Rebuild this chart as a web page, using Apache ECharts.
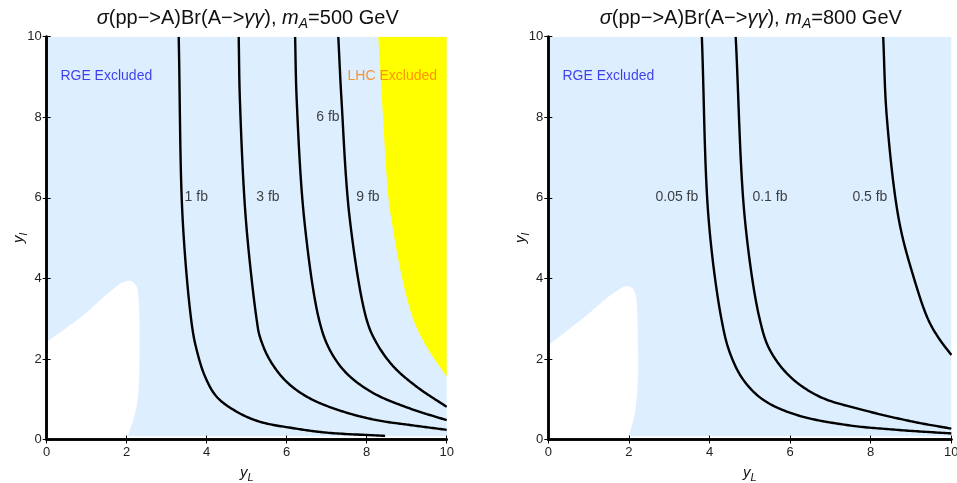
<!DOCTYPE html>
<html>
<head>
<meta charset="utf-8">
<script src="https://cdn.jsdelivr.net/npm/echarts@6/dist/echarts.min.js"></script>
<style>
  html, body { margin: 0; padding: 0; background: #fff; }
  #chart { width: 957px; height: 483px; }
</style>
</head>
<body>
<div id="chart"></div>
<script>
// ---- data (yL on x, yl on y) ----
const massLabels = ['500', '800'];

// region where RGE running is excluded: whole plane (thin strip near yl = 0 left clear)
const rgeRegion = [[0, 0.08], [10, 0.08], [10, 10], [0, 10]];

// edge of the allowed (white) pocket in the lower-left corner, from the yl axis to the yL axis
const pocketEdge500 = [[0, 2.42], [0.92, 3.09], [1.58, 3.67], [1.92, 3.91], [2.12, 3.93], [2.25, 3.79],
  [2.30, 3.46], [2.32, 2.80], [2.32, 1.97], [2.29, 1.15], [2.21, 0.65], [2.08, 0.24], [2.0, 0]];
const pocketEdge800 = [[0, 2.34], [0.92, 3.06], [1.6, 3.62], [1.92, 3.80], [2.07, 3.77], [2.17, 3.58],
  [2.21, 3.10], [2.22, 2.40], [2.23, 1.72], [2.15, 0.65], [2.06, 0.30], [1.97, 0]];

// edge of the LHC diphoton exclusion, mA = 500 GeV
const lhcEdge500 = [[8.29, 10], [8.54, 6.03], [8.62, 5.45], [8.87, 4.08], [9.17, 2.97], [9.5, 2.30], [10, 1.56]];

// cross-section contours, mA = 500 GeV
const c500_1fb = [[3.30, 10], [3.40, 5.45], [3.63, 2.84], [3.75, 2.22], [3.96, 1.56], [4.25, 1.06], [4.75, 0.69],
  [5.33, 0.44], [6.17, 0.28], [7.0, 0.17], [8.46, 0.09]];
const c500_3fb = [[4.80, 10], [4.83, 8.43], [4.98, 5.45], [5.25, 2.97], [5.33, 2.55], [5.58, 1.97], [6.0, 1.43],
  [6.58, 1.02], [7.42, 0.69], [8.25, 0.48], [9.08, 0.36], [10, 0.24]];
const c500_6fb = [[6.21, 10], [6.25, 8.43], [6.44, 5.45], [6.81, 2.97], [7.08, 2.22], [7.5, 1.64], [8.17, 1.15],
  [9.08, 0.77], [10, 0.48]];
const c500_9fb = [[7.29, 10], [7.37, 8.43], [7.58, 5.45], [8.0, 2.97], [8.25, 2.39], [8.67, 1.81], [9.25, 1.31],
  [10, 0.81]];

// cross-section contours, mA = 800 GeV
const c800_005fb = [[3.81, 10], [3.98, 5.45], [4.30, 2.97], [4.51, 2.14], [4.84, 1.48], [5.34, 0.98], [6.16, 0.61],
  [7.40, 0.36], [8.65, 0.24], [10, 0.15]];
const c800_01fb = [[4.65, 10], [4.88, 5.45], [5.25, 2.97], [5.50, 2.22], [6.0, 1.56], [6.74, 1.06], [7.82, 0.73],
  [9.06, 0.44], [10, 0.27]];
const c800_05fb = [[8.31, 10], [8.40, 8.0], [8.70, 5.45], [9.05, 4.08], [9.43, 2.97], [9.70, 2.50], [10, 2.10]];

// contour / region labels: [yL, yl, text]
const labels500 = [[3.74, 6.02, '1 fb'], [5.53, 6.02, '3 fb'], [7.03, 8.01, '6 fb'], [8.03, 6.02, '9 fb']];
const labels800 = [[3.19, 6.02, '0.05 fb'], [5.50, 6.02, '0.1 fb'], [7.98, 6.02, '0.5 fb']];
const regionLabels500 = [[1.49, 9.02, 'RGE Excluded', 'rge'], [8.64, 9.02, 'LHC Excluded', 'lhc']];
const regionLabels800 = [[1.49, 9.02, 'RGE Excluded', 'rge']];

// ---- styling ----
const FONT = 'Liberation Sans, Arial, sans-serif';
const BLUE_FILL = '#DDEEFF';
const frameLine = { lineStyle: { color: '#000', width: 2.5 } };
const innerTick = { inside: true, length: 4, lineStyle: { color: '#000', width: 1 } };

const chart = echarts.init(document.getElementById('chart'), null, { renderer: 'canvas' });

const grids = [
  { left: 46.7, top: 36.7, width: 400, height: 402.8, outerBoundsMode: 'none', containLabel: false },
  { left: 548.3, top: 36.7, width: 403, height: 402.8, outerBoundsMode: 'none', containLabel: false }
];

// centripetal Catmull-Rom through pixel points -> dense polyline
function spline(P, n) {
  const m = P.length;
  if (m < 3) return P.slice();
  const get = i => {
    if (i < 0) return [2 * P[0][0] - P[1][0], 2 * P[0][1] - P[1][1]];
    if (i >= m) return [2 * P[m - 1][0] - P[m - 2][0], 2 * P[m - 1][1] - P[m - 2][1]];
    return P[i];
  };
  const dist = (a, b) => Math.max(Math.pow(Math.hypot(b[0] - a[0], b[1] - a[1]), 0.5), 1e-4);
  const out = [];
  for (let i = 0; i < m - 1; i++) {
    const p0 = get(i - 1), p1 = P[i], p2 = P[i + 1], p3 = get(i + 2);
    const t0 = 0, t1 = t0 + dist(p0, p1), t2 = t1 + dist(p1, p2), t3 = t2 + dist(p2, p3);
    for (let k = 0; k < n; k++) {
      const t = t1 + (t2 - t1) * k / n;
      const lerp = (a, b, ta, tb) => {
        const u = (t - ta) / (tb - ta);
        return [a[0] + (b[0] - a[0]) * u, a[1] + (b[1] - a[1]) * u];
      };
      const A1 = lerp(p0, p1, t0, t1), A2 = lerp(p1, p2, t1, t2), A3 = lerp(p2, p3, t2, t3);
      const B1 = lerp(A1, A2, t0, t2), B2 = lerp(A2, A3, t1, t3);
      out.push(lerp(B1, B2, t1, t2));
    }
  }
  out.push(P[m - 1]);
  return out;
}

function subRich(size) {
  return {
    i: { fontFamily: FONT, fontStyle: 'italic', fontWeight: 'normal', fontSize: size, color: '#111', lineHeight: size + 6 },
    n: { fontFamily: FONT, fontWeight: 'normal', fontSize: size, color: '#111', lineHeight: size + 6 },
    s: { fontFamily: FONT, fontStyle: 'italic', fontWeight: 'normal', fontSize: Math.round(size * 0.7), color: '#111',
         lineHeight: Math.round(size * 0.7), verticalAlign: 'bottom' }
  };
}

const xAxes = [], yAxes = [];
grids.forEach((g, gi) => {
  xAxes.push({
    gridIndex: gi, type: 'value', min: 0, max: 10, interval: 2, position: 'bottom', z: 10,
    axisLine: frameLine, axisTick: innerTick, splitLine: { show: false },
    axisLabel: { fontFamily: FONT, fontSize: 13, color: '#222', margin: 6 },
    name: '{i|y}{s|L}', nameLocation: 'middle', nameGap: 23, nameMoveOverlap: false,
    nameTextStyle: { rich: subRich(15) }
  });
  xAxes.push({
    gridIndex: gi, type: 'value', min: 0, max: 10, interval: 2, position: 'top', z: 10,
    axisLine: frameLine, axisTick: innerTick, splitLine: { show: false }, axisLabel: { show: false }
  });
  yAxes.push({
    gridIndex: gi, type: 'value', min: 0, max: 10, interval: 2, position: 'left', z: 10,
    axisLine: frameLine, axisTick: innerTick, splitLine: { show: false },
    axisLabel: { fontFamily: FONT, fontSize: 13, color: '#222', margin: 5 },
    name: '{i|y}{s|l}', nameLocation: 'middle', nameGap: 17, nameRotate: 90, nameMoveOverlap: false,
    nameTextStyle: { rich: subRich(15) }
  });
  yAxes.push({
    gridIndex: gi, type: 'value', min: 0, max: 10, interval: 2, position: 'right', z: 10,
    axisLine: frameLine, axisTick: innerTick, splitLine: { show: false }, axisLabel: { show: false }
  });
});

// filled area; `edge` is splined, `corners` are appended as straight segments
function areaSeries(gi, edge, corners, color, z) {
  return {
    type: 'custom', xAxisIndex: gi * 2, yAxisIndex: gi * 2, z: z, silent: true, clip: true,
    data: edge,
    renderItem: (params, api) => {
      if (params.dataIndex !== 0) return null;
      const px = edge.map(p => api.coord(p));
      const pts = (corners ? spline(px, 16) : px).concat((corners || []).map(p => api.coord(p)));
      return { type: 'polygon', shape: { points: pts }, style: { fill: color, stroke: null } };
    }
  };
}

function contourSeries(gi, pts) {
  return {
    type: 'custom', xAxisIndex: gi * 2, yAxisIndex: gi * 2, z: 5, silent: true, clip: true,
    data: pts,
    renderItem: (params, api) => {
      if (params.dataIndex !== 0) return null;
      return {
        type: 'polyline',
        shape: { points: spline(pts.map(p => api.coord(p)), 24) },
        style: { stroke: '#000', lineWidth: 2.4, fill: null, lineJoin: 'round' }
      };
    }
  };
}

function labelSeries(gi, items) {
  return {
    type: 'scatter', xAxisIndex: gi * 2, yAxisIndex: gi * 2, z: 6, silent: true,
    symbolSize: 0,
    data: items.map(d => ({ value: [d[0], d[1]], name: d[2], kind: d[3] || 'contour' })),
    label: {
      show: true, position: 'inside',
      formatter: p => {
        const k = p.data.kind;
        return k === 'contour' ? p.name : '{' + k + '|' + p.name + '}';
      },
      fontFamily: FONT, fontSize: 14, color: '#111',
      rich: {
        rge: { fontFamily: FONT, fontSize: 14, color: '#1414E6' },
        lhc: { fontFamily: FONT, fontSize: 14, color: '#FF7A00' }
      }
    }
  };
}

const titles = massLabels.map((m, gi) => ({
  text: '{i|σ}{n|(pp−>A)Br(A−>}{i|γγ}{n|), }{i|m}{s|A}{n|=' + m + ' GeV}',
  left: grids[gi].left + grids[gi].width / 2 - 4, top: 0, textAlign: 'center',
  textStyle: { fontWeight: 'normal', rich: subRich(20) }
}));

const series = [
  areaSeries(0, rgeRegion, null, BLUE_FILL, 1),
  areaSeries(0, pocketEdge500, [[0, 0]], '#FFFFFF', 2),
  areaSeries(0, lhcEdge500, [[10, 10]], '#FFFF00', 3),
  contourSeries(0, c500_1fb),
  contourSeries(0, c500_3fb),
  contourSeries(0, c500_6fb),
  contourSeries(0, c500_9fb),
  labelSeries(0, labels500.concat(regionLabels500)),

  areaSeries(1, rgeRegion, null, BLUE_FILL, 1),
  areaSeries(1, pocketEdge800, [[0, 0]], '#FFFFFF', 2),
  contourSeries(1, c800_005fb),
  contourSeries(1, c800_01fb),
  contourSeries(1, c800_05fb),
  labelSeries(1, labels800.concat(regionLabels800))
];

chart.setOption({
  animation: false,
  backgroundColor: '#fff',
  title: titles,
  grid: grids,
  xAxis: xAxes,
  yAxis: yAxes,
  series: series
});
</script>
</body>
</html>
